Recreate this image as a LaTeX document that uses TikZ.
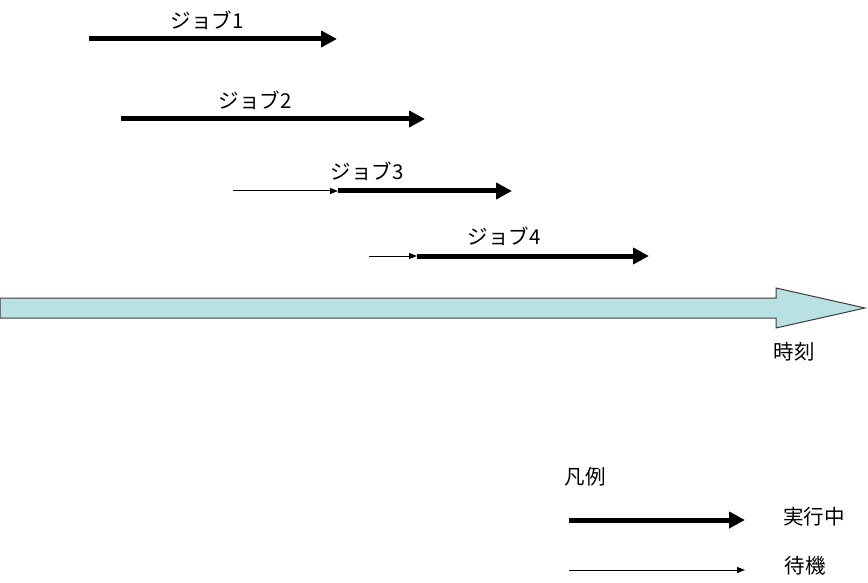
\documentclass[tikz,border=0pt]{standalone}
\usepackage{fontspec}
\setmainfont{Noto Sans CJK JP}
\usetikzlibrary{arrows.meta}

\begin{document}
\begin{tikzpicture}[x=1pt,y=-1pt,
  run/.style={line width=5pt,-{Triangle[length=16pt,width=16pt]}},
  idle/.style={line width=1pt,-{Triangle[length=8pt,width=6pt]}},
  lbl/.style={font=\fontsize{20.5}{20.5}\selectfont,inner sep=0pt}]

\useasboundingbox (0,0) rectangle (868,583);

% Job rows: start, switch, end
\coordinate (A1) at (89,39);   \coordinate (B1) at (337,39);
\coordinate (A2) at (121,119); \coordinate (B2) at (425,119);
\coordinate (W3) at (233,191); \coordinate (A3) at (338,191); \coordinate (B3) at (512,191);
\coordinate (W4) at (369,256); \coordinate (A4) at (417,256); \coordinate (B4) at (649,256);

% Job arrows
\draw[run] (A1) -- (B1);
\draw[run] (A2) -- (B2);
\draw[idle] (W3) -- (A3);
\draw[run] (A3) -- (B3);
\draw[idle] (W4) -- (A4);
\draw[run] (A4) -- (B4);

% Job labels
\node[lbl] (j1) at (207,20) {ジョブ1};
\node[lbl] (j2) at (255,100) {ジョブ2};
\node[lbl] (j3) at (367,171) {ジョブ3};
\node[lbl] (j4) at (504,236) {ジョブ4};

% Time axis
\draw[fill={rgb,255:red,185;green,224;blue,226},draw={rgb,255:red,60;green,60;blue,60},line width=1pt]
  (0,298) -- (776,298) -- (776,288) -- (865,308) -- (776,328) -- (776,318) -- (0,318) -- cycle;
\node[lbl] (t) at (794,352) {時刻};

% Legend
\node[lbl] (leg) at (585,477) {凡例};
\coordinate (LA) at (569,520); \coordinate (LB) at (745,520);
\coordinate (LC) at (569,570); \coordinate (LD) at (745,570);
\draw[run] (LA) -- (LB);
\draw[idle] (LC) -- (LD);
\node[lbl] (lrun) at (814,517) {実行中};
\node[lbl] (lidle) at (805,566) {待機};

\end{tikzpicture}
\end{document}
